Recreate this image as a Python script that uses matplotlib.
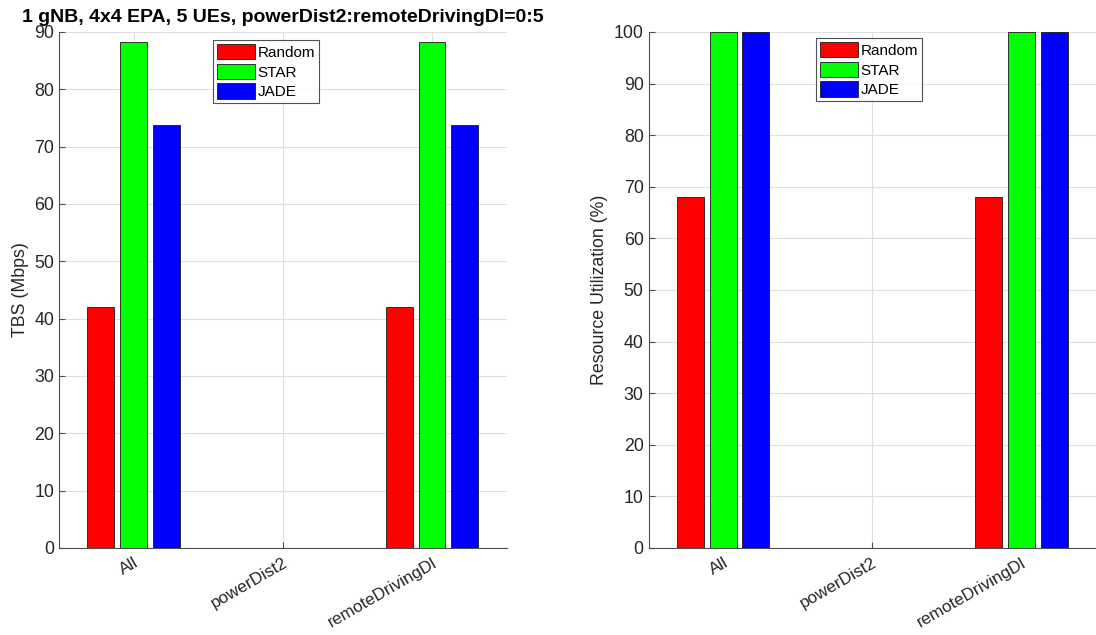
"""
TBS and resource utilization per traffic class (Random / STAR / JADE)
"""

import matplotlib
matplotlib.use('Agg')
import matplotlib.pyplot as plt
import numpy as np

plt.rcParams['font.family'] = ['Liberation Sans', 'DejaVu Sans']

categories = ['All', 'powerDist2', 'remoteDrivingDl']
schemes = ['Random', 'STAR', 'JADE']
colors = ['#ff0000', '#00ff00', '#0000ff']

tbs_random = [42.1, 0, 42.1]
tbs_star = [88.2, 0, 88.2]
tbs_jade = [73.8, 0, 73.8]

util_random = [68.0, 0, 68.0]
util_star = [100.0, 0, 100.0]
util_jade = [100.0, 0, 100.0]

title = '1 gNB, 4x4 EPA, 5 UEs, powerDist2:remoteDrivingDl=0:5'

W, H = 1096, 635
fig = plt.figure(figsize=(W / 100, H / 100), dpi=100)
fig.patch.set_facecolor('white')

ax1 = fig.add_axes([59 / W, 87 / H, 447.6 / W, 516 / H])
ax2 = fig.add_axes([648.5 / W, 87 / H, 447.5 / W, 516 / H])

x = np.arange(1, len(categories) + 1)
offsets = [-0.22, 0.0, 0.22]
bw = 0.18
axis_col = '#262626'


def draw(ax, series, ylim, ylabel, leg_xy):
    for vals, off, col, name in zip(series, offsets, colors, schemes):
        ax.bar(x + off, vals, bw, color=col, edgecolor='#1a1a1a', linewidth=0.6, label=name, zorder=3)
    ax.set_xlim(0.5, 3.5)
    ax.set_ylim(*ylim)
    ax.set_yticks(np.arange(ylim[0], ylim[1] + 1, 10))
    ax.set_xticks(x)
    ax.set_xticklabels(categories, rotation=30, ha='right', rotation_mode='anchor')
    ax.set_ylabel(ylabel, fontsize=12.8, color=axis_col)
    ax.grid(True, color='#dfdfdf', linewidth=0.8, zorder=0)
    ax.spines['top'].set_visible(False)
    ax.spines['right'].set_visible(False)
    for s in ['left', 'bottom']:
        ax.spines[s].set_color('#4d4d4d')
        ax.spines[s].set_linewidth(0.8)
    ax.tick_params(direction='in', length=4, colors='#4d4d4d', labelcolor=axis_col, labelsize=12.8)
    ax.tick_params(axis='x', pad=5, labelsize=12.3)
    leg = ax.legend(loc='upper left', bbox_to_anchor=(leg_xy[0] / W, 1 - leg_xy[1] / H),
                    bbox_transform=fig.transFigure, fontsize=11, frameon=True, fancybox=False,
                    handlelength=2.5, handleheight=1.2, handletextpad=0.15, labelspacing=0.25,
                    borderpad=0.25, borderaxespad=0)
    leg.get_frame().set_edgecolor('#262626')
    leg.get_frame().set_linewidth(0.8)


draw(ax1, [tbs_random, tbs_star, tbs_jade], (0, 90), 'TBS (Mbps)', (213, 40))
draw(ax2, [util_random, util_star, util_jade], (0, 100), 'Resource Utilization (%)', (816, 38))

ax1.set_title(title, fontsize=14, fontweight='bold', pad=7)

fig.savefig('out.png', dpi=100, facecolor='white')
